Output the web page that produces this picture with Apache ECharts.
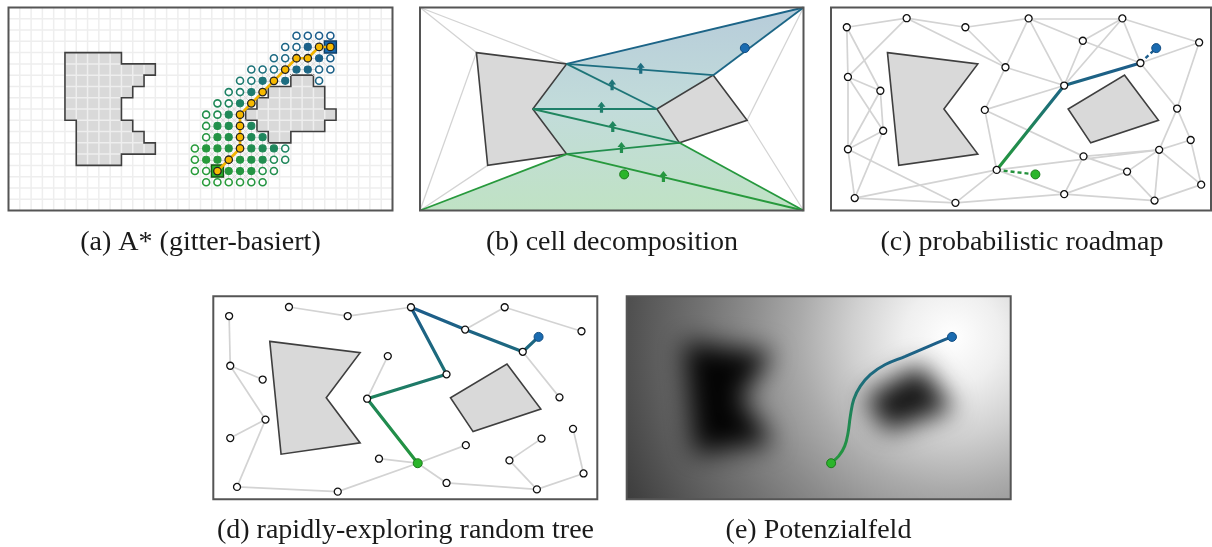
<!DOCTYPE html>
<html>
<head>
<meta charset="utf-8">
<script src="https://cdn.jsdelivr.net/npm/echarts@6/dist/echarts.min.js"></script>
<style>
  html, body { margin: 0; padding: 0; background: #fff; }
  #main { width: 1212px; height: 547px; }
</style>
</head>
<body>
<div id="main"></div>
<script>
// ---------------------------------------------------------------
// Scene in world units: 34 x 18, y grows downward
// ---------------------------------------------------------------
const frameCorners = [[0, 0], [34, 0], [0, 18], [34, 18]];          // TL, TR, BL, BR
const obstacleK = [[5, 4], [13, 5], [10, 9], [13, 13], [6, 14]];
const obstacleQ = [[26, 6], [29, 10], [23, 12], [21, 9]];
const startPoint = [18.1, 14.8];
const goalPoint = [28.8, 3.6];

// (a) A* on a grid of unit cells (cell indices)
const gridObstacleK = [[5,4],[10,4],[10,5],[13,5],[13,6],[12,6],[12,7],[11,7],[11,8],[10,8],[10,10],[11,10],[11,11],[12,11],[12,12],[13,12],[13,13],[10,13],[10,14],[6,14],[6,10],[5,10]];
const gridObstacleQ = [[25,6],[27,6],[27,7],[28,7],[28,9],[29,9],[29,10],[28,10],[28,11],[25,11],[25,12],[23,12],[23,11],[22,11],[22,10],[21,10],[21,9],[22,9],[22,8],[23,8],[23,7],[25,7]];
const astarStart = [18, 14];
const astarGoal = [28, 3];
const astarOpen = [[25,2],[26,2],[27,2],[28,2],[24,3],[25,3],[23,4],[24,4],[28,4],[21,5],[22,5],[23,5],[27,5],[28,5],
  [20,6],[21,6],[27,6],[19,7],[20,7],[18,8],[19,8],[17,9],[18,9],[17,10],[17,11],[16,12],[24,12],[16,13],[23,13],[24,13],
  [16,14],[17,14],[22,14],[23,14],[17,15],[18,15],[19,15],[20,15],[21,15],[22,15]];
const astarClosed = [[26,3],[27,4],[25,5],[26,5],[22,6],[24,6],[21,7],[20,8],[19,9],[18,10],[19,10],[21,10],
  [18,11],[19,11],[21,11],[22,11],[17,12],[18,12],[19,12],[21,12],[22,12],[23,12],[17,13],[18,13],[20,13],[21,13],[22,13],
  [19,14],[20,14],[21,14]];
const astarPath = [[18,14],[19,13],[20,12],[20,11],[20,10],[20,9],[21,8],[22,7],[23,6],[24,5],[25,4],[26,4],[27,3],[28,3]];

// (b) cell decomposition: vertices = frame corners + obstacle vertices
const cellVertices = frameCorners.concat(obstacleK, obstacleQ);
const cellFreeRegion = [1, 9, 12, 11, 3, 2, 7, 6, 5];
const cellBoundaryEdges = [[0,4],[0,5],[2,4],[2,8],[1,10],[3,10]];
const cellPathEdges = [[5,1],[1,9],[9,5],[5,12],[6,12],[6,11],[7,11],[7,3],[11,3],[2,7]];
const cellCrossingMarks = [[19.57,5.39],[17.03,6.86],[16.09,8.84],[17.09,10.55],[17.86,12.41],[21.58,14.98]];

// (c)/(d) sampled configurations
const sampleNodes = [[1.4,1.75],[6.7,0.95],[11.9,1.75],[17.5,0.97],[25.8,0.97],[22.3,2.95],[32.6,3.1],[27.4,4.92],
  [15.45,5.3],[1.5,6.16],[4.37,7.38],[20.65,6.92],[13.62,9.08],[30.65,8.96],[4.62,10.93],[1.5,12.57],[31.85,11.75],
  [29.06,12.62],[22.36,13.2],[14.67,14.4],[26.22,14.55],[32.78,15.71],[2.1,16.9],[11.02,17.32],[20.65,16.55],[28.65,17.12]];

// (c) roadmap edges and the found route
const roadmapEdges = [[0,1],[0,9],[0,10],[1,2],[1,9],[1,8],[2,3],[2,8],[3,4],[3,8],[3,11],[3,5],[4,5],[4,11],[4,7],[4,6],
  [5,11],[5,7],[6,7],[6,13],[7,13],[8,11],[8,12],[11,12],[12,19],[12,18],[9,10],[9,15],[9,14],[10,14],[10,15],[14,15],
  [14,22],[15,22],[15,23],[22,23],[22,19],[23,19],[23,24],[19,24],[19,17],[18,17],[18,20],[18,24],[20,17],[20,24],
  [20,25],[17,25],[17,21],[16,17],[16,21],[13,16],[13,17],[25,21],[24,25]];
const roadmapRoute = [19, 11, 7];

// (d) tree edges, children of the root (start) and the found branch
const treeRootChildren = [19, 18, 24, 23, 12];
const treeEdges = [[12,8],[12,11],[11,3],[3,5],[5,7],[5,4],[4,6],[7,13],[3,2],[2,1],[23,22],[22,14],[14,9],[14,15],
  [9,10],[9,0],[24,25],[25,20],[20,17],[25,21],[21,16]];
const treeRoute = [12, 11, 3, 5, 7];

// (e) descent path through the potential field
const fieldPath = [[18.09,14.76],[18.77,14.17],[19.30,13.28],[19.60,12.10],[19.80,10.63],[20.10,9.15],[20.69,7.97],
  [21.57,6.94],[22.90,6.05],[24.67,5.32],[26.74,4.43],[28.80,3.57]];

const captions = ['(a) A* (gitter-basiert)', '(b) cell decomposition', '(c) probabilistic roadmap',
  '(d) rapidly-exploring random tree', '(e) Potenzialfeld'];

// ---------------------------------------------------------------
// Layout and style
// ---------------------------------------------------------------
const PANELS = [
  { left: 8.5,   top: 7.5,   width: 384,   height: 203, xMax: 34 },
  { left: 420,   top: 7.5,   width: 383.5, height: 203, xMax: 34 },
  { left: 831,   top: 7.5,   width: 380,   height: 203, xMax: 33.65 },
  { left: 213.3, top: 296.3, width: 384,   height: 203, xMax: 34 },
  { left: 626.7, top: 296.3, width: 384,   height: 203, xMax: 34 }
];
const CAPTION_POS = [[200.5, 243], [612, 243], [1022, 243], [405.5, 531], [818.5, 531]];
const OBST_FILL = '#d9d9d9', OBST_STROKE = '#3f3f3f', EDGE_GRAY = '#d3d3d3';
const START_FILL = '#2bb52b', START_STROKE = '#1c7a1c', GOAL_FILL = '#1a6bb0', GOAL_STROKE = '#124d82';

// blue (t=0) -> teal -> green (t=1)
const RAMP = [[0, [27, 92, 140]], [0.35, [29, 110, 128]], [0.6, [30, 130, 102]], [0.85, [35, 147, 68]], [1, [40, 155, 58]]];
function rampColor(t) {
  t = Math.max(0, Math.min(1, t));
  for (let k = 1; k < RAMP.length; k++) {
    if (t <= RAMP[k][0]) {
      const a = RAMP[k - 1], b = RAMP[k];
      const f = (t - a[0]) / (b[0] - a[0]);
      const c = a[1].map((v, n) => Math.round(v + (b[1][n] - v) * f));
      return 'rgb(' + c.join(',') + ')';
    }
  }
  return 'rgb(' + RAMP[RAMP.length - 1][1].join(',') + ')';
}
const ROUTE_GRADIENT = {
  type: 'linear', x: 0, y: 0, x2: 0, y2: 1,
  colorStops: [
    { offset: 0, color: '#1d5b8b' }, { offset: 0.35, color: '#1d6c7c' },
    { offset: 0.62, color: '#1f8656' }, { offset: 1, color: '#25983b' }
  ]
};

function custom(idx, z, renderItem) {
  return { type: 'custom', xAxisIndex: idx, yAxisIndex: idx, z, silent: true, clip: false,
           data: [[0, 0]], renderItem };
}
function polygonSeries(idx, z, pts, style) {
  return custom(idx, z, (p, api) => ({ type: 'polygon', shape: { points: pts.map(q => api.coord(q)) }, style }));
}
function segSeries(idx, z, segs, lineStyle) {
  return { type: 'lines', coordinateSystem: 'cartesian2d', xAxisIndex: idx, yAxisIndex: idx, z, silent: true,
           polyline: false, data: segs.map(s => ({ coords: s })), lineStyle: Object.assign({ opacity: 1 }, lineStyle) };
}
function dotSeries(idx, z, data, size, itemStyle, symbol) {
  return { type: 'scatter', xAxisIndex: idx, yAxisIndex: idx, z, silent: true, symbol: symbol || 'circle',
           symbolSize: size, data, itemStyle: Object.assign({ opacity: 1 }, itemStyle) };
}
function frameSeries(idx) {
  const xm = PANELS[idx].xMax;
  return custom(idx, 50, (p, api) => {
    const a = api.coord([0, 0]), b = api.coord([xm, 18]);
    return { type: 'rect', shape: { x: a[0], y: a[1], width: b[0] - a[0], height: b[1] - a[1] },
             style: { fill: 'none', stroke: '#555', lineWidth: 2 } };
  });
}
const cellCenter = c => [c[0] + 0.5, c[1] + 0.5];

const series = [];

// ---------------- (a) A* ----------------
const obstStyle = { fill: OBST_FILL, stroke: null };
const obstLine = { fill: 'none', stroke: OBST_STROKE, lineWidth: 1.6 };
series.push(polygonSeries(0, 1, gridObstacleK, obstStyle));
series.push(polygonSeries(0, 1, gridObstacleQ, obstStyle));
series.push(custom(0, 2, (p, api) => {
  const children = [];
  const gl = { stroke: '#eeeeee', lineWidth: 1.5 };
  for (let x = 1; x < 34; x++) {
    const a = api.coord([x, 0]), b = api.coord([x, 18]);
    children.push({ type: 'line', shape: { x1: a[0], y1: a[1], x2: b[0], y2: b[1] }, style: gl });
  }
  for (let y = 1; y < 18; y++) {
    const a = api.coord([0, y]), b = api.coord([34, y]);
    children.push({ type: 'line', shape: { x1: a[0], y1: a[1], x2: b[0], y2: b[1] }, style: gl });
  }
  return { type: 'group', children };
}));
series.push(polygonSeries(0, 3, gridObstacleK, obstLine));
series.push(polygonSeries(0, 3, gridObstacleQ, obstLine));

// expansion lattice between an expanded cell and its 8 neighbours
const cellKey = c => c[0] + ',' + c[1];
const knownCells = new Set(astarOpen.concat(astarClosed, astarPath).map(cellKey));
const latticeSegs = [];
const seen = new Set();
astarClosed.concat(astarPath).forEach(c => {
  for (let dx = -1; dx <= 1; dx++) for (let dy = -1; dy <= 1; dy++) {
    if (!dx && !dy) continue;
    const n = [c[0] + dx, c[1] + dy];
    if (!knownCells.has(cellKey(n))) continue;
    const k = [cellKey(c), cellKey(n)].sort().join('|');
    if (seen.has(k)) continue;
    seen.add(k);
    latticeSegs.push([cellCenter(c), cellCenter(n)]);
  }
});
series.push(segSeries(0, 4, latticeSegs, { color: '#d8d8d8', width: 1 }));

function astarTone(c) {
  const dx = astarGoal[0] - astarStart[0], dy = astarGoal[1] - astarStart[1];
  const prog = ((c[0] - astarStart[0]) * dx + (c[1] - astarStart[1]) * dy) / (dx * dx + dy * dy);
  return rampColor(1 - prog);
}
series.push(dotSeries(0, 6, astarOpen.map(c => ({ value: cellCenter(c), itemStyle: { color: '#fff', borderColor: astarTone(c) } })),
  7, { borderWidth: 1.6 }));
series.push(dotSeries(0, 6, astarClosed.map(c => ({ value: cellCenter(c), itemStyle: { color: astarTone(c), borderColor: astarTone(c) } })),
  7, { borderWidth: 1.2 }));
series.push(dotSeries(0, 7, [cellCenter(astarStart)], 12, { color: START_FILL, borderColor: '#145214', borderWidth: 1.4 }, 'rect'));
series.push(dotSeries(0, 7, [cellCenter(astarGoal)], 12, { color: GOAL_FILL, borderColor: '#0e3d66', borderWidth: 1.4 }, 'rect'));
series.push({ type: 'line', xAxisIndex: 0, yAxisIndex: 0, z: 8, silent: true, symbol: 'none',
  data: astarPath.map(cellCenter), lineStyle: { color: '#f2b400', width: 2.6 } });
series.push(dotSeries(0, 9, astarPath.map(cellCenter), 7.5, { color: '#f7b900', borderColor: '#222', borderWidth: 1.3 }));
series.push(frameSeries(0));

// ---------------- (b) cell decomposition ----------------
series.push(polygonSeries(1, 1, cellFreeRegion.map(i => cellVertices[i]), {
  fill: { type: 'linear', x: 0, y: 0, x2: 0, y2: 1, colorStops: [
    { offset: 0, color: 'rgba(30,95,140,0.32)' }, { offset: 0.5, color: 'rgba(30,125,120,0.27)' },
    { offset: 1, color: 'rgba(45,160,60,0.30)' } ] }
}));
series.push(segSeries(1, 2, cellBoundaryEdges.map(e => [cellVertices[e[0]], cellVertices[e[1]]]), { color: EDGE_GRAY, width: 1.3 }));
series.push(polygonSeries(1, 3, obstacleK, { fill: OBST_FILL, stroke: OBST_STROKE, lineWidth: 1.6 }));
series.push(polygonSeries(1, 3, obstacleQ, { fill: OBST_FILL, stroke: OBST_STROKE, lineWidth: 1.6 }));
cellPathEdges.forEach(e => {
  const a = cellVertices[e[0]], b = cellVertices[e[1]];
  series.push(segSeries(1, 4, [[a, b]], { color: rampColor((a[1] + b[1]) / 2 / 16), width: 1.8 }));
});
series.push(dotSeries(1, 5, cellCrossingMarks.map(m => ({ value: m, itemStyle: { color: rampColor(m[1] / 16) } })),
  [8, 11], {}, 'path://M5,0 L10,5.5 L7,5.5 L7,12 L3,12 L3,5.5 L0,5.5 Z'));
series.push(dotSeries(1, 6, [startPoint], 9, { color: START_FILL, borderColor: START_STROKE, borderWidth: 1 }));
series.push(dotSeries(1, 6, [goalPoint], 9, { color: GOAL_FILL, borderColor: GOAL_STROKE, borderWidth: 1 }));
series.push(frameSeries(1));

// ---------------- (c) probabilistic roadmap ----------------
series.push(segSeries(2, 1, roadmapEdges.map(e => [sampleNodes[e[0]], sampleNodes[e[1]]]), { color: EDGE_GRAY, width: 1.7 }));
series.push(polygonSeries(2, 2, obstacleK, { fill: OBST_FILL, stroke: OBST_STROKE, lineWidth: 1.6 }));
series.push(polygonSeries(2, 2, obstacleQ, { fill: OBST_FILL, stroke: OBST_STROKE, lineWidth: 1.6 }));
series.push({ type: 'line', xAxisIndex: 2, yAxisIndex: 2, z: 3, silent: true, symbol: 'none',
  data: roadmapRoute.map(i => sampleNodes[i]), lineStyle: { color: ROUTE_GRADIENT, width: 3.2 } });
series.push(segSeries(2, 3, [[startPoint, sampleNodes[roadmapRoute[0]]]], { color: '#23913c', width: 2.4, type: [4, 3] }));
series.push(segSeries(2, 3, [[sampleNodes[roadmapRoute[roadmapRoute.length - 1]], goalPoint]], { color: '#1d5e8e', width: 2.4, type: [4, 3] }));
series.push(dotSeries(2, 4, sampleNodes, 7, { color: '#fff', borderColor: '#111', borderWidth: 1.3 }));
series.push(dotSeries(2, 5, [startPoint], 9, { color: START_FILL, borderColor: START_STROKE, borderWidth: 1 }));
series.push(dotSeries(2, 5, [goalPoint], 9, { color: GOAL_FILL, borderColor: GOAL_STROKE, borderWidth: 1 }));
series.push(frameSeries(2));

// ---------------- (d) RRT ----------------
const treeSegs = treeEdges.map(e => [sampleNodes[e[0]], sampleNodes[e[1]]])
  .concat(treeRootChildren.map(i => [startPoint, sampleNodes[i]]));
series.push(segSeries(3, 1, treeSegs, { color: EDGE_GRAY, width: 1.7 }));
series.push(polygonSeries(3, 2, obstacleK, { fill: OBST_FILL, stroke: OBST_STROKE, lineWidth: 1.6 }));
series.push(polygonSeries(3, 2, obstacleQ, { fill: OBST_FILL, stroke: OBST_STROKE, lineWidth: 1.6 }));
series.push({ type: 'line', xAxisIndex: 3, yAxisIndex: 3, z: 3, silent: true, symbol: 'none',
  data: [startPoint].concat(treeRoute.map(i => sampleNodes[i]), [goalPoint]),
  lineStyle: { color: ROUTE_GRADIENT, width: 3.2, join: 'round' } });
series.push(dotSeries(3, 4, sampleNodes, 7, { color: '#fff', borderColor: '#111', borderWidth: 1.3 }));
series.push(dotSeries(3, 5, [startPoint], 9, { color: START_FILL, borderColor: START_STROKE, borderWidth: 1 }));
series.push(dotSeries(3, 5, [goalPoint], 9, { color: GOAL_FILL, borderColor: GOAL_STROKE, borderWidth: 1 }));
series.push(frameSeries(3));

// ---------------- (e) potential field ----------------
series.push(custom(4, 1, (p, api) => {
  const a = api.coord([0, 0]), b = api.coord([34, 18]), g = api.coord(goalPoint);
  return { type: 'rect', shape: { x: a[0], y: a[1], width: b[0] - a[0], height: b[1] - a[1] },
    style: { fill: { type: 'radial', x: g[0], y: g[1], r: 370, global: true, colorStops: [
      { offset: 0, color: '#ffffff' }, { offset: 0.13, color: '#efefef' }, { offset: 0.27, color: '#d0d0d0' },
      { offset: 0.41, color: '#ababab' }, { offset: 0.55, color: '#8c8c8c' }, { offset: 0.68, color: '#727272' },
      { offset: 0.82, color: '#5a5a5a' }, { offset: 0.95, color: '#424242' }, { offset: 1, color: '#3b3b3b' } ] } } };
}));
// obstacles as soft blobs: shape is drawn off-canvas, only its blurred shadow lands in place
const SHIFT = 3000;
series.push(custom(4, 2, (p, api) => ({
  type: 'group',
  children: [[obstacleK, 'rgba(0,0,0,0.97)'], [obstacleQ, 'rgba(0,0,0,0.9)']].map(([poly, col]) => ({
    type: 'polygon',
    shape: { points: poly.map(q => { const c = api.coord(q); return [c[0] + SHIFT, c[1]]; }) },
    style: { fill: '#000', shadowBlur: 26, shadowColor: col, shadowOffsetX: -SHIFT, shadowOffsetY: 0 }
  }))
})));
series.push({ type: 'line', xAxisIndex: 4, yAxisIndex: 4, z: 3, silent: true, symbol: 'none', smooth: 0.4,
  data: fieldPath, lineStyle: { color: ROUTE_GRADIENT, width: 3 } });
series.push(dotSeries(4, 4, [startPoint], 9, { color: START_FILL, borderColor: START_STROKE, borderWidth: 1 }));
series.push(dotSeries(4, 4, [goalPoint], 9, { color: GOAL_FILL, borderColor: GOAL_STROKE, borderWidth: 1 }));
series.push(frameSeries(4));

// ---------------------------------------------------------------
const chart = echarts.init(document.getElementById('main'), null, { renderer: 'canvas' });
chart.setOption({
  animation: false,
  backgroundColor: '#fff',
  grid: PANELS.map(p => ({ left: p.left, top: p.top, width: p.width, height: p.height, show: false })),
  xAxis: PANELS.map((p, i) => ({ type: 'value', gridIndex: i, min: 0, max: p.xMax, show: false })),
  yAxis: PANELS.map((p, i) => ({ type: 'value', gridIndex: i, min: 0, max: 18, inverse: true, show: false })),
  graphic: captions.map((t, i) => ({
    type: 'text', x: CAPTION_POS[i][0], y: CAPTION_POS[i][1], silent: true,
    style: { text: t, fill: '#1a1a1a', font: '28px "Liberation Serif"', align: 'center', verticalAlign: 'middle',
             textAlign: 'center', textVerticalAlign: 'middle' }
  })),
  series
});
</script>
</body>
</html>
